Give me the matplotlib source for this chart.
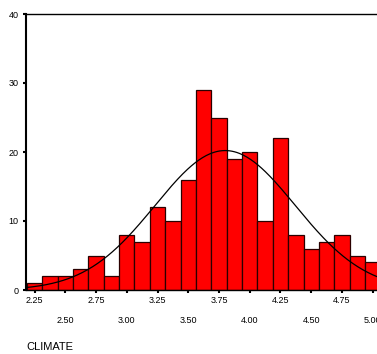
import numpy as np
import matplotlib
matplotlib.use("Agg")
import matplotlib.pyplot as plt

# histogram of CLIMATE, bin width 0.125
bin_centers = [2.25, 2.375, 2.5, 2.625, 2.75, 2.875, 3.0, 3.125, 3.25, 3.375, 3.5, 3.625,
               3.75, 3.875, 4.0, 4.125, 4.25, 4.375, 4.5, 4.625, 4.75, 4.875, 5.0]
counts = [1, 2, 2, 3, 5, 2, 8, 7, 12, 10, 16, 29, 25, 19, 20, 10, 22, 8, 6, 7, 8, 5, 4]
bin_width = 0.125

# normal curve
curve_mean = 3.80
curve_sd = 0.57
curve_n = 231

row1_ticks = [2.25, 2.75, 3.25, 3.75, 4.25, 4.75]
row2_ticks = [2.50, 3.00, 3.50, 4.00, 4.50, 5.00]
y_ticks = [0, 10, 20, 30, 40]

plt.rcParams['font.family'] = ['Liberation Sans', 'DejaVu Sans']

fig = plt.figure(figsize=(3.77, 3.54), dpi=100)
ax = fig.add_axes([26 / 377, (354 - 290) / 354, 351 / 377, 276 / 354])

ax.bar(bin_centers, counts, width=bin_width, color='#ff0000', edgecolor='#2a0000', linewidth=0.9)

xs = np.linspace(2.1, 5.1, 300)
ys = curve_n * bin_width / (curve_sd * np.sqrt(2 * np.pi)) * np.exp(-0.5 * ((xs - curve_mean) / curve_sd) ** 2)
ax.plot(xs, ys, color='black', linewidth=0.9)

ax.set_xlim(2.18, 5.035)
ax.set_ylim(0, 40)

ax.set_yticks(y_ticks)
ax.set_yticklabels([str(v) for v in y_ticks])
ax.set_xticks(row1_ticks)
ax.set_xticklabels(['%.2f' % v for v in row1_ticks])
ax.set_xticks(row2_ticks, minor=True)
ax.set_xticklabels(['%.2f' % v for v in row2_ticks], minor=True)

ax.tick_params(axis='y', length=2.5, width=1.5, labelsize=6.5, pad=3)
ax.tick_params(axis='x', which='major', length=2, width=1.5, labelsize=6.5, pad=2)
ax.tick_params(axis='x', which='minor', length=2, width=1.5, labelsize=6.5, pad=17)

ax.spines['right'].set_visible(False)
for s in ['left', 'top', 'bottom']:
    ax.spines[s].set_linewidth(1.0)
ax.spines['left'].set_linewidth(1.5)

fig.text(26 / 377, 1 - 347 / 354, 'CLIMATE', fontsize=8, va='center', ha='left')

fig.savefig('out.png', dpi=100)
